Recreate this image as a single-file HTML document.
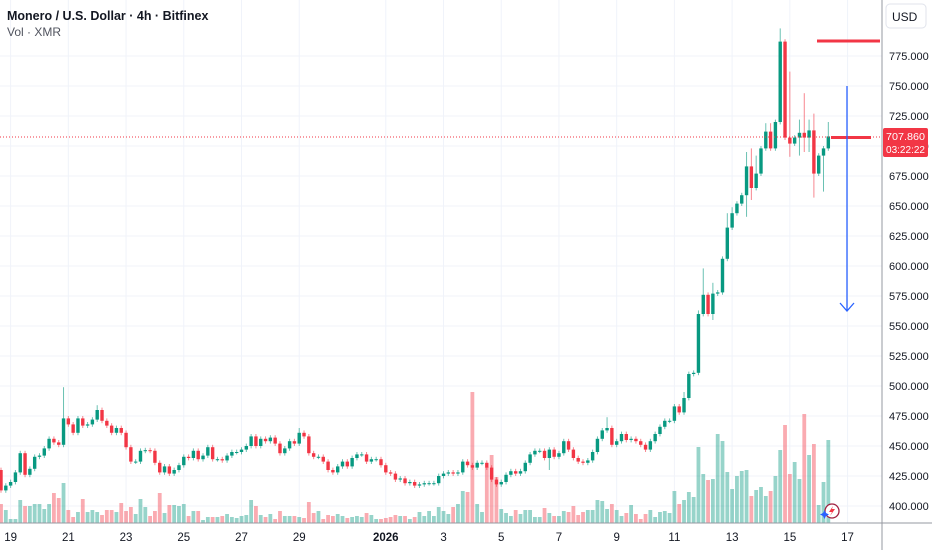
<!DOCTYPE html>
<html><head><meta charset="utf-8">
<style>
html,body{margin:0;padding:0;background:#fff;}
#wrap{position:relative;width:932px;height:550px;overflow:hidden;font-family:"Liberation Sans",sans-serif;}
svg text{font-family:"Liberation Sans",sans-serif;}
</style></head>
<body>
<div id="wrap">
<svg id="chart" width="932" height="550" xmlns="http://www.w3.org/2000/svg">
  <g id="grid"></g>
  <g id="vols"></g>
  <g id="candles"></g>
  <line x1="0" x2="882" y1="137" y2="137" stroke="#F23645" stroke-width="1" stroke-dasharray="1,2"/>
  <line x1="817" x2="880" y1="41" y2="41" stroke="#F23645" stroke-width="3"/>
  <line x1="831" x2="871" y1="137.5" y2="137.5" stroke="#F23645" stroke-width="3"/>
  <g>
    <line x1="847" x2="847" y1="86" y2="311" stroke="#2962FF" stroke-width="1.3"/>
    <polyline points="840,303 847,311 854,303" fill="none" stroke="#2962FF" stroke-width="1.3"/>
  </g>
  <line x1="0" x2="932" y1="523" y2="523" stroke="#9598a1" stroke-width="1"/>
  <line x1="882" x2="882" y1="0" y2="550" stroke="#9598a1" stroke-width="1"/>
  <g id="yticks"></g>
  <g id="xticks"></g>
  <g>
    <rect x="886" y="4" width="40" height="24" rx="4" fill="#fff" stroke="#e0e3eb"/>
    <text x="892" y="21" font-size="12" fill="#131722">USD</text>
  </g>
  <g>
    <rect x="883" y="128" width="45" height="29" rx="2" fill="#F23645"/>
    <text x="886" y="140" font-size="10.5" fill="#fff" textLength="39" lengthAdjust="spacingAndGlyphs">707.860</text>
    <text x="886" y="153" font-size="10.5" fill="#fff" textLength="39" lengthAdjust="spacingAndGlyphs">03:22:22</text>
  </g>
  <g>
    <circle cx="832" cy="511" r="7" fill="#fff" stroke="#a02040" stroke-width="1.3"/>
    <path d="M833,506 L829,512 L832,512 L830,516 L835,509 L832,509 Z" fill="#F23645"/>
    <path d="M823,513 l1.5,-3 l1.5,3 l3,1.5 l-3,1.5 l-1.5,3 l-1.5,-3 l-3,-1.5 z" fill="#2962FF"/>
  </g>
  <text x="7" y="20" font-size="12.5" font-weight="bold" fill="#131722">Monero / U.S. Dollar · 4h · Bitfinex</text>
  <text x="7" y="36" font-size="12" fill="#50535e">Vol · XMR</text>
</svg>
</div>
<script>
const closes=[413,417,420,428,444,426,431,441,442,448,
456,453,451,473,468,461,473,467,468,472,
480,471,467,461,465,461,449,437,437,446,
446.5,446,436,428,433,427,430,434,441,440,
446,439,442,449,439,439,438,442,445,445,
447,450,458,450,456,454,457,452,444,448,
454,452,461,458,444,441,441,437,430,428,
433,437,433,440,443,443,437,439,439,434,
428,427,422,423,419,420,417,418,419,419,
419,425,427,428,427,428,437,434,432,436,
436,432,422,418,420,426,429,427,429,436,
443,446,446,440,447,441,444,454,447,440,
437,436,438,445,456,463,465,451,454,460,
455,456,454,451,447,454,460,466,471,471,
483,478,490,510,511,560,576,560,577,578,
606,632,644,652,659,683,665,677,698,712,
698,720,787,707,702,707,711,707,713,677,
692,698,708];
const firstOpen=430;
const wickUp=[2,2,2,2,2,2,2,2,2,2,
2,2,2,26,2,2,2,2,2,2,
4,2,2,2,2,2,2,2,2,2,
2,2,2,2,2,2,2,2,2,2,
2,2,2,2,2,2,2,2,2,2,
2,2,2,2,2,2,2,2,2,2,
2,2,4,2,2,2,2,2,2,2,
2,2,2,2,2,2,2,2,2,2,
2,2,2,2,2,2,2,2,2,2,
2,2,2,2,2,2,2,2,2,2,
2,2,2,2,2,2,2,2,2,2,
2,2,2,2,2,2,2,2,2,2,
2,2,2,2,2,2,9,2,2,2,
2,2,2,2,2,2,2,2,2,2,
2,2,5,2,2,3,22,2,9,2,
2,12,5,2,2,12,15,15,2,7,
7,2,11,2,55,2,11,33,9,14,
2,2,12];
const wickDn=[2,2,2,2,2,2,2,2,2,2,
2,2,2,2,2,2,2,2,2,2,
2,2,2,2,2,2,2,2,2,2,
2,2,2,2,2,2,2,2,2,2,
2,2,2,2,2,2,2,2,2,2,
2,2,2,2,2,2,2,2,2,2,
2,2,2,2,2,2,2,2,2,2,
2,2,2,2,2,2,2,2,2,2,
2,2,2,2,2,2,2,2,2,2,
2,2,2,2,2,2,2,2,2,2,
2,2,2,2,2,2,2,2,2,2,
2,2,2,2,10,2,2,2,2,2,
2,2,2,2,2,2,2,2,2,2,
2,2,2,2,2,2,2,2,2,2,
2,2,2,2,2,2,2,2,5,2,
2,2,2,2,2,18,10,2,2,2,
2,2,2,2,11,2,15,12,12,20,
2,30,2];
const volumes=[19,13,4,4,23,17,17,19,19,14,
19,30,25,40,13,6,11,24,11,13,
11,8,13,13,11,20,12,16,9,24,
16,7,12,30,10,18,18,17,19,7,
12,12,3,6,6,6,7,9,6,5,
7,8,23,17,8,6,9,4,12,7,
7,7,6,5,21,10,12,4,8,7,
9,7,5,6,7,6,10,8,4,4,
5,6,8,7,7,4,6,11,7,12,
7,16,12,9,16,19,
32,31,131,19,11,56,68,46,14,10,
7,13,9,13,13,6,6,15,10,7,
7,12,11,17,8,11,13,13,23,22,
14,19,13,7,10,18,9,4,9,13,
6,11,12,10,32,19,23,31,26,76,
49,43,44,89,82,51,34,47,52,53,
27,33,36,27,32,47,73,98,49,61,
44,109,68,79,18,41,83];
const priceTicks=[400,425,450,475,500,525,550,575,600,625,650,675,700,725,750,775];
const dateLabels=["19","21","23","25","27","29","2026","3","5","7","9","11","13","15","17"];
const dateDayOffsets=[0,2,4,6,8,10,13,15,17,19,21,23,25,27,29];

const NS="http://www.w3.org/2000/svg";
const X0=1, STEP=4.81, DEC19=2, PER_DAY=6;
function xOf(i){return X0+i*STEP;}
function yOf(p){return 56+(775-p)*1.2;}
function vY(v){return 523-v;}
function mk(tag,attrs,parent){const e=document.createElementNS(NS,tag);for(const k in attrs)e.setAttribute(k,attrs[k]);parent.appendChild(e);return e;}

const grid=document.getElementById('grid');
const yt=document.getElementById('yticks');
priceTicks.forEach(p=>{
  const y=yOf(p);
  const l=mk('line',{x1:0,x2:882,y1:y,y2:y,stroke:'#f0f3fa','stroke-width':1},grid);
  
  
  const t=mk('text',{x:889,y:y+4,'font-size':11,fill:'#131722'},yt);
  t.textContent=p.toFixed(3);
  
  
});
const xt=document.getElementById('xticks');
dateLabels.forEach((lab,k)=>{
  const x=xOf(DEC19+dateDayOffsets[k]*PER_DAY);
  const l=mk('line',{x1:x,x2:x,y1:0,y2:523,stroke:'#f0f3fa','stroke-width':1},grid);
  
  
  const t=mk('text',{x:x,y:541,'font-size':11.5,fill:'#131722','text-anchor':'middle'},xt);
  if(lab==='2026')t.setAttribute('font-weight','bold');
  t.textContent=lab;
  
  
});

const cg=document.getElementById('candles');
const vg=document.getElementById('vols');
const n=closes.length;
for(let i=0;i<n;i++){
  const o=i===0?firstOpen:closes[i-1];
  const c=closes[i];
  const up=c>=o;
  const hi=Math.max(o,c)+wickUp[i];
  const lo=Math.min(o,c)-wickDn[i];
  const x=xOf(i);
  const col=up?'#089981':'#F23645';
  if(i<volumes.length){
    const vb=mk('rect',{x:x-1.9,y:vY(volumes[i]),width:3.8,height:volumes[i],fill:up?'rgba(8,153,129,0.42)':'rgba(242,54,69,0.42)'},vg);
    
    
  }
  const w=mk('line',{x1:x,x2:x,y1:yOf(hi),y2:yOf(lo),stroke:col,'stroke-width':1,opacity:0.6},cg);
  
  
  const yt1=yOf(Math.max(o,c)), yb=yOf(Math.min(o,c));
  const b=mk('rect',{x:x-1.7,y:yt1,width:3.4,height:Math.max(1,yb-yt1),fill:col},cg);
  
  
}
</script>
</body></html>
